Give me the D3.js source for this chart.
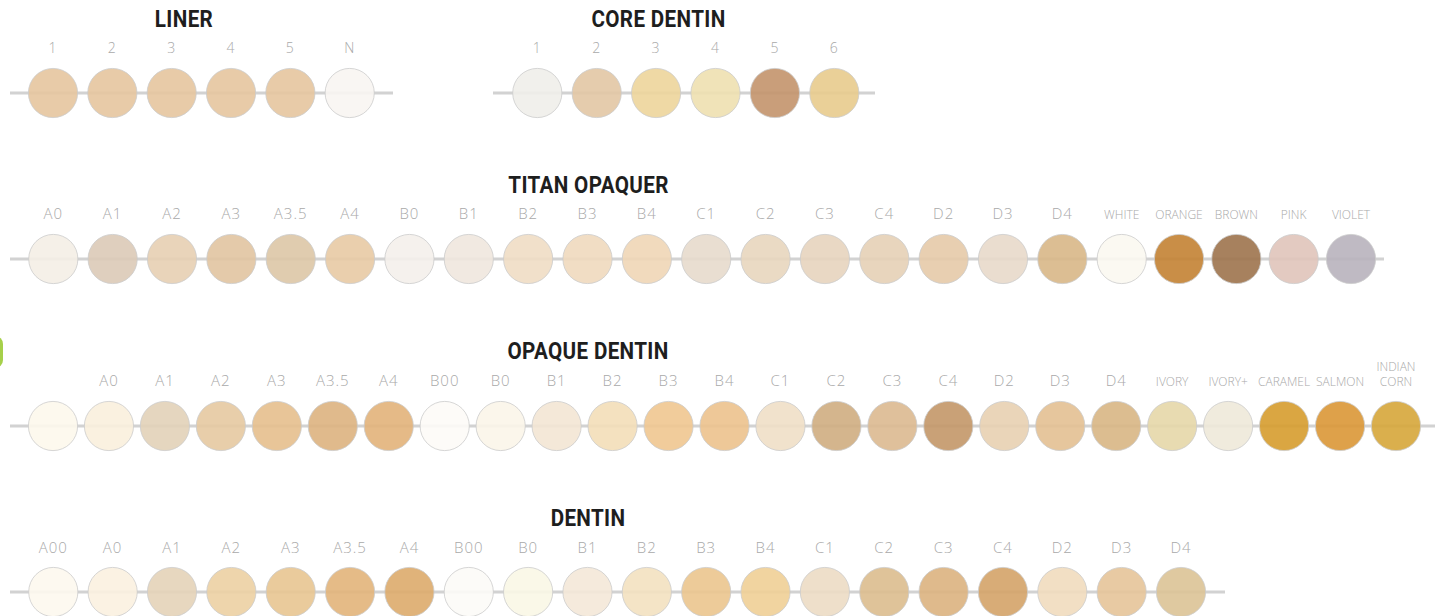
<!DOCTYPE html>
<html>
<head>
<meta charset="utf-8">
<script src="https://cdn.jsdelivr.net/npm/d3@7"></script>
<style>
  body { margin: 0; background: #fff; }
  .title { font-family: Roboto, "Liberation Sans", sans-serif; font-weight: bold; font-size: 24px; fill: #1e1e1e; }
  .lbl { font-family: "Open Sans", sans-serif; font-weight: 300; fill: #a9a9a9; }
</style>
</head>
<body>
<div id="chart"></div>
<script>
const width = 1440;
const height = 616;

// shade labels and colours, one pair of arrays per range
const linerLabels = ['1', '2', '3', '4', '5', 'N'];
const linerColors = ['#e5c59e', '#e5c59e', '#e5c59e', '#e5c59e', '#e5c59e', '#f8f5f2'];

const coreLabels = ['1', '2', '3', '4', '5', '6'];
const coreColors = ['#efeeea', '#e2c6a4', '#edd59b', '#eee0b0', '#c3936b', '#e8cb8d'];

const titanLabels = ['A0', 'A1', 'A2', 'A3', 'A3.5', 'A4', 'B0', 'B1', 'B2', 'B3', 'B4',
  'C1', 'C2', 'C3', 'C4', 'D2', 'D3', 'D4', 'WHITE', 'ORANGE', 'BROWN', 'PINK', 'VIOLET'];
const titanColors = ['#f4eee5', '#dccab7', '#e7cfb2', '#e1c4a1', '#ddc6a6', '#e8caa4', '#f4f0eb',
  '#f0e7de', '#f0ddc4', '#efd9be', '#f0d6b6', '#e7dacc', '#e8d6be', '#e7d4be', '#e6d0b6',
  '#e6caa8', '#e8d9ca', '#d8b787', '#fbf8f1', '#c38233', '#9d734c', '#e0c4ba', '#b8b2bc'];

const opaqueLabels = ['', 'A0', 'A1', 'A2', 'A3', 'A3.5', 'A4', 'B00', 'B0', 'B1', 'B2', 'B3', 'B4',
  'C1', 'C2', 'C3', 'C4', 'D2', 'D3', 'D4', 'IVORY', 'IVORY+', 'CARAMEL', 'SALMON', 'INDIAN\nCORN'];
const opaqueColors = ['#fdf8ec', '#faefdd', '#e2d2b8', '#e6c9a1', '#e5bf8d', '#ddb27f', '#e2b37a',
  '#fdfbf7', '#fbf5e9', '#f3e6d4', '#f3deb8', '#efc790', '#ecc28d', '#efdfc6', '#cfad81',
  '#dcb990', '#c39768', '#e8d0b1', '#e3c092', '#d8b684', '#e6d7a9', '#eee9d9', '#d69c2e',
  '#da9736', '#d6a63a'];

const dentinLabels = ['A00', 'A0', 'A1', 'A2', 'A3', 'A3.5', 'A4', 'B00', 'B0', 'B1', 'B2', 'B3', 'B4',
  'C1', 'C2', 'C3', 'C4', 'D2', 'D3', 'D4'];
const dentinColors = ['#fdf8ee', '#fbf1e0', '#e4d3b8', '#ecd0a3', '#e8c591', '#e2b47a', '#ddab6c',
  '#fcfbf7', '#faf7e6', '#f4e8d8', '#f3e1c0', '#ebc58e', '#efcf96', '#ecdcc4', '#dcbd8e',
  '#dcb380', '#d4a368', '#f1dbbe', '#e6c499', '#dcc396'];

// layout of each strip
const rows = [
  { title: 'LINER', labels: linerLabels, colors: linerColors, titleX: 184, titleY: 27,
    labelY: 53, cy: 93, line: [10, 393], xDomain: [0, 5], xRange: [53, 349.7], labelSize: 14 },
  { title: 'CORE DENTIN', labels: coreLabels, colors: coreColors, titleX: 658.5, titleY: 27,
    labelY: 53, cy: 93, line: [493, 875], xDomain: [0, 5], xRange: [537.3, 834.3], labelSize: 14 },
  { title: 'TITAN OPAQUER', labels: titanLabels, colors: titanColors, titleX: 588.5, titleY: 193,
    labelY: 219, cy: 259, line: [10, 1384], xDomain: [0, 18, 22], xRange: [53.3, 1121.7, 1351], labelSize: 15 },
  { title: 'OPAQUE DENTIN', labels: opaqueLabels, colors: opaqueColors, titleX: 588, titleY: 359,
    labelY: 386, cy: 426, line: [10, 1435], xDomain: [0, 24], xRange: [53, 1396], labelSize: 15 },
  { title: 'DENTIN', labels: dentinLabels, colors: dentinColors, titleX: 588, titleY: 526,
    labelY: 553, cy: 592, line: [10, 1225], xDomain: [0, 19], xRange: [53.3, 1181], labelSize: 15 }
];

const radius = 24.6;
const isName = (label) => label.length > 1 && !/\d/.test(label);

const svg = d3.select('#chart')
  .append('svg')
  .attr('width', width)
  .attr('height', height);

// green tab peeking in from the left edge
svg.append('rect')
  .attr('x', -14)
  .attr('y', 336)
  .attr('width', 17)
  .attr('height', 32)
  .attr('rx', 8)
  .attr('fill', '#a6d04a');

for (const row of rows) {
  const x = d3.scaleLinear().domain(row.xDomain).range(row.xRange);
  const g = svg.append('g');

  g.append('line')
    .attr('x1', row.line[0])
    .attr('x2', row.line[1])
    .attr('y1', row.cy)
    .attr('y2', row.cy)
    .attr('stroke', '#d2d2d2')
    .attr('stroke-width', 3);

  // condensed heading: squeeze horizontally around its centre
  g.append('text')
    .attr('class', 'title')
    .attr('text-anchor', 'middle')
    .attr('transform', `translate(${row.titleX},${row.titleY}) scale(0.86,1)`)
    .style('letter-spacing', '0.4px')
    .text(row.title);

  const shades = row.labels.map((label, i) => ({ label, color: row.colors[i], i }));

  g.selectAll('circle')
    .data(shades)
    .join('circle')
    .attr('cx', (d) => x(d.i))
    .attr('cy', row.cy)
    .attr('r', radius)
    .attr('fill', (d) => d.color)
    .attr('fill-opacity', 0.9)
    .attr('stroke', '#cccccc')
    .attr('stroke-opacity', 0.8)
    .attr('stroke-width', 1);

  const lbl = g.selectAll('text.lbl')
    .data(shades)
    .join('text')
    .attr('class', 'lbl')
    .attr('text-anchor', 'middle')
    .attr('x', (d) => x(d.i))
    .attr('y', row.labelY)
    // colour names are set small, shade codes larger and spaced
    .style('font-size', (d) => isName(d.label) ? '12px' : row.labelSize + 'px')
    .style('letter-spacing', (d) => isName(d.label) ? '0px' : '1px');

  lbl.each(function (d) {
    const parts = d.label.split('\n');
    const t = d3.select(this);
    parts.forEach((p, k) => {
      t.append('tspan')
        .attr('x', x(d.i))
        .attr('dy', k === 0 ? -(parts.length - 1) * 15 : 15)
        .text(p);
    });
  });
}
</script>
</body>
</html>
